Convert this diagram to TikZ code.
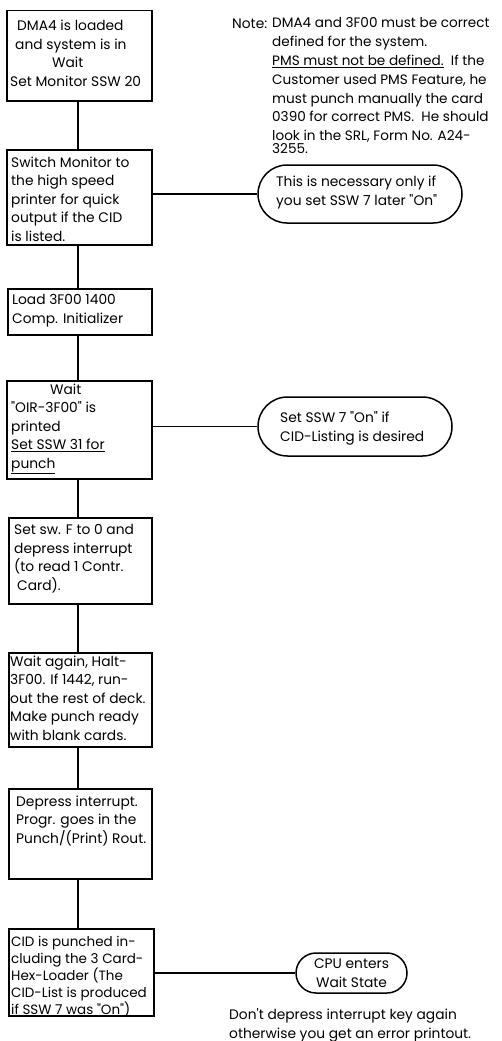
\documentclass[tikz,border=0pt]{standalone}
\usepackage{fontspec}
\newfontfamily\pf{Poppins}
\usetikzlibrary{shapes.misc}
\tikzset{
  stepbox/.style={draw, line width=1.5pt, rectangle, inner sep=0pt, anchor=north west},
  oval/.style={draw, line width=1.5pt, rounded rectangle, inner sep=0pt},
  txt/.style={anchor=base west, inner sep=0pt, align=left, font=\pf\fontsize{13.8}{18.4}\selectfont},
  ctxt/.style={anchor=base, inner sep=0pt, align=center, font=\pf\fontsize{13.8}{18.6}\selectfont},
  conn/.style={line width=1.5pt},
}
\begin{document}
\begin{tikzpicture}[x=1pt,y=-1pt]
\useasboundingbox (0,0) rectangle (502,1041);
% boxes
\node[stepbox, minimum width=145pt, minimum height=90pt] (b1) at (6,10) {};
\node[stepbox, minimum width=145pt, minimum height=95pt] (b2) at (6,149) {};
\node[stepbox, minimum width=144pt, minimum height=46pt] (b3) at (7,288) {};
\node[stepbox, minimum width=145pt, minimum height=98pt] (b4) at (6,380) {};
\node[stepbox, minimum width=143pt, minimum height=86pt] (b5) at (8,517) {};
\node[stepbox, minimum width=143pt, minimum height=94pt] (b6) at (8,652) {};
\node[stepbox, minimum width=143pt, minimum height=90pt] (b7) at (8,788) {};
\node[stepbox, minimum width=145pt, minimum height=87pt] (b8) at (8,928) {};
% ovals
\node[oval, minimum width=204pt, minimum height=58pt] (o1) at (360,194) {};
\node[oval, minimum width=194pt, minimum height=59pt] (o2) at (355,426.5) {};
\node[oval, minimum width=111pt, minimum height=40pt] (o3) at (351.5,973) {};
% spine connectors
\coordinate (sx) at (78,0);
\draw[conn] (sx |- b1.south) -- (sx |- b2.north);
\draw[conn] (sx |- b2.south) -- (sx |- b3.north);
\draw[conn] (sx |- b3.south) -- (sx |- b4.north);
\draw[conn] (sx |- b4.south) -- (sx |- b5.north);
\draw[conn] (sx |- b5.south) -- (sx |- b6.north);
\draw[conn] (sx |- b6.south) -- (sx |- b7.north);
\draw[conn] (sx |- b7.south) -- (sx |- b8.north);
% side connectors
\draw[conn] (b2.east |- o1.west) -- (o1.west);
\draw[conn] (b4.east |- o2.west) -- (o2.west);
\draw[conn] (b8.east |- o3.west) -- (o3.west);
% box texts (anchored at baseline of last line)
\node[txt] (t1) at (10,86) {\hspace*{7pt}DMA4 is loaded\\ \hspace*{5pt}and system is in\\ \hspace*{42pt}Wait\\ Set Monitor SSW 20};
\node[txt] (t2) at (11,241) {Switch Monitor to\\ the high speed\\ printer for quick\\ output if the CID\\ is listed.};
\node[txt] (t3) at (12,323) {Load 3F00 1400\\ Comp. Initializer};
\node[txt] (t4) at (11,468) {\hspace*{39pt}Wait\\ "OIR-3F00" is\\ printed\\ \underline{Set SSW 31 for}\\ \underline{punch}};
\node[txt] (t5) at (14,590) {Set sw. F to 0 and\\ depress interrupt\\ (to read 1 Contr.\\ \hspace*{3pt}Card).};
\node[txt] (t6) at (10,740) {Wait again, Halt-\\ 3F00. If 1442, run-\\ out the rest of deck.\\ Make punch ready\\ with blank cards.};
\node[txt] (t7) at (16,843) {Depress interrupt.\\ Progr. goes in the\\ Punch/(Print) Rout.};
\node[txt, font=\pf\fontsize{13.5}{16.8}\selectfont] (t8) at (11,1014) {CID is punched in-\\ cluding the 3 Card-\\ Hex-Loader (The\\ CID-List is produced\\ if SSW 7 was "On")};
% oval texts
\node[txt] (t9) at (276,205) {This is necessary only if\\ you set SSW 7 later "On"};
\node[txt] (t10) at (280,441) {Set SSW 7 "On" if\\ CID-Listing is desired};
\node[ctxt] (t11) at (351.5,987) {CPU enters\\ Wait State};
% notes
\node[txt] (n0) at (232,29) {Note:};
\node[txt, font=\pf\fontsize{13.6}{18.8}\selectfont] (n1) at (272,153) {DMA4 and 3F00 must be correct\\ defined for the system.\\ \underline{PMS must not be defined.}\ \ If the\\ Customer used PMS Feature, he\\ must punch manually the card\\ 0390 for correct PMS.\ \ He should\\ look in the SRL, Form No. A24-\\[-6.5pt] 3255.};
\node[txt] (n2) at (229,1038) {Don't depress interrupt key again\\ otherwise you get an error printout.};
\end{tikzpicture}
\end{document}
